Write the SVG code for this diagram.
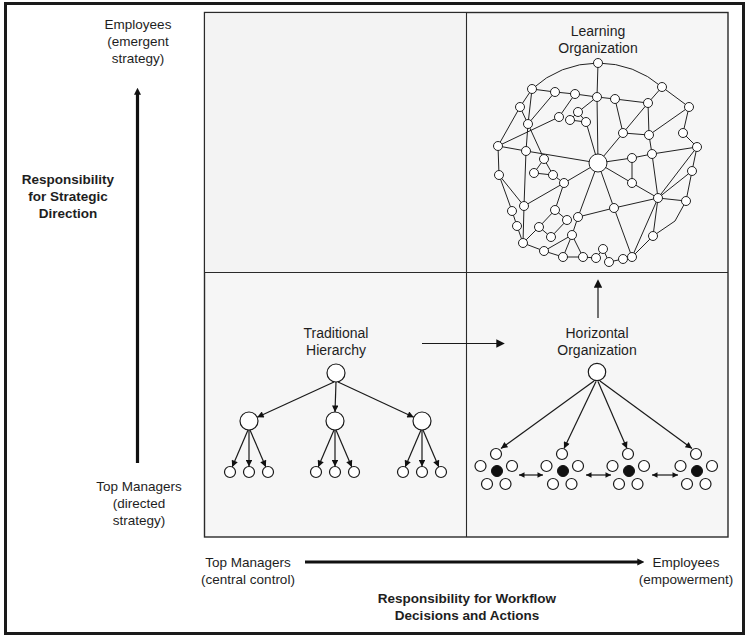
<svg xmlns="http://www.w3.org/2000/svg" width="749" height="639" viewBox="0 0 749 639">
<defs>
<marker id="ah" viewBox="0 0 10 10" refX="10" refY="5" markerWidth="8" markerHeight="6.5" markerUnits="userSpaceOnUse" orient="auto"><path d="M0,0 L10,5 L0,10 z" fill="#111"/></marker>
<marker id="ahd" viewBox="0 0 10 10" refX="10" refY="5" markerWidth="6.5" markerHeight="5.5" markerUnits="userSpaceOnUse" orient="auto-start-reverse"><path d="M0,0 L10,5 L0,10 z" fill="#111"/></marker>
<marker id="ahm" viewBox="0 0 10 10" refX="2" refY="5" markerWidth="11" markerHeight="8.5" markerUnits="userSpaceOnUse" orient="auto"><path d="M0,0 L10,5 L0,10 z" fill="#111"/></marker>
<marker id="ahx" viewBox="0 0 10 10" refX="1" refY="5" markerWidth="7" markerHeight="8" markerUnits="userSpaceOnUse" orient="auto"><path d="M0,0 L10,5 L0,10 z" fill="#111"/></marker>
</defs>
<style>
text{font-family:"Liberation Sans",Arial,Helvetica,sans-serif;fill:#1e1e1e;text-anchor:middle}
.lbl{font-size:13.5px}
.q{font-size:14px}
.b{font-size:13.5px;font-weight:bold}
.ln{stroke:#1a1a1a;stroke-width:1.2;fill:none}
.nd{fill:#fff;stroke:#1a1a1a;stroke-width:1.2}
.blk{fill:#111;stroke:#111;stroke-width:1}
.net line,.net path,.net polyline{stroke:#222;stroke-width:1;fill:none}
.net circle{fill:#fff;stroke:#222;stroke-width:1}
.axis{stroke:#111;stroke-width:3.2;fill:none}
</style>
<rect x="0" y="0" width="749" height="639" fill="#fff"/>
<rect x="5.5" y="3.5" width="738" height="630" fill="none" stroke="#1a1a1a" stroke-width="3"/>

<g id="quadrants">
<rect x="204.5" y="12.5" width="523.5" height="524.5" fill="#f6f6f6" stroke="#2a2a2a" stroke-width="1.4"/>
<rect x="205.2" y="13.2" width="261" height="259" fill="#f3f3f3"/>
<line x1="466.5" y1="12.5" x2="466.5" y2="537" stroke="#2a2a2a" stroke-width="1.1"/>
<line x1="204.5" y1="272.5" x2="728" y2="272.5" stroke="#2a2a2a" stroke-width="1.1"/>
</g>

<g id="axis-labels">
<text class="lbl" x="138" y="29">Employees</text>
<text class="lbl" x="138" y="46">(emergent</text>
<text class="lbl" x="138" y="63">strategy)</text>
<text class="b" x="68" y="184">Responsibility</text>
<text class="b" x="68" y="201">for Strategic</text>
<text class="b" x="68" y="218">Direction</text>
<text class="lbl" x="139" y="491">Top Managers</text>
<text class="lbl" x="139" y="508">(directed</text>
<text class="lbl" x="139" y="525">strategy)</text>
<text class="lbl" x="248" y="567">Top Managers</text>
<text class="lbl" x="248" y="584">(central control)</text>
<text class="lbl" x="686" y="567">Employees</text>
<text class="lbl" x="686" y="584">(empowerment)</text>
<text class="b" x="467" y="603">Responsibility for Workflow</text>
<text class="b" x="467" y="620">Decisions and Actions</text>
</g>

<g id="connectors">
<line class="axis" x1="137.5" y1="463" x2="137.5" y2="94" marker-end="url(#ahx)"/>
<line class="axis" x1="305" y1="562" x2="638" y2="562" marker-end="url(#ahx)"/>
<line class="ln" x1="422" y1="343.5" x2="498" y2="343.5" stroke-width="1.6" marker-end="url(#ahm)"/>
<line class="ln" x1="598" y1="318" x2="598" y2="286" stroke-width="1.6" marker-end="url(#ahm)"/>
</g>

<g id="traditional-hierarchy">
<text class="q" x="336" y="338">Traditional</text>
<text class="q" x="336" y="355">Hierarchy</text>
<line class="ln" x1="334" y1="382" x2="257.2" y2="417.2" marker-end="url(#ah)"/>
<line class="ln" x1="336" y1="382" x2="335" y2="412" marker-end="url(#ah)"/>
<line class="ln" x1="338" y1="382" x2="413.8" y2="417.2" marker-end="url(#ah)"/>
<line class="ln" x1="248" y1="430" x2="232.2" y2="466.9" marker-end="url(#ah)"/>
<line class="ln" x1="249" y1="430" x2="249" y2="466.5" marker-end="url(#ah)"/>
<line class="ln" x1="250" y1="430" x2="265.8" y2="466.9" marker-end="url(#ah)"/>
<line class="ln" x1="334" y1="430" x2="318.2" y2="466.9" marker-end="url(#ah)"/>
<line class="ln" x1="335" y1="430" x2="335" y2="466.5" marker-end="url(#ah)"/>
<line class="ln" x1="336" y1="430" x2="351.8" y2="466.9" marker-end="url(#ah)"/>
<line class="ln" x1="421" y1="430" x2="405.2" y2="466.9" marker-end="url(#ah)"/>
<line class="ln" x1="422" y1="430" x2="422" y2="466.5" marker-end="url(#ah)"/>
<line class="ln" x1="423" y1="430" x2="438.8" y2="466.9" marker-end="url(#ah)"/>
<circle class="nd" cx="336" cy="373" r="9"/>
<circle class="nd" cx="249" cy="421" r="9"/>
<circle class="nd" cx="335" cy="421" r="9"/>
<circle class="nd" cx="422" cy="421" r="9"/>
<circle class="nd" cx="230" cy="472" r="5.5"/>
<circle class="nd" cx="249" cy="472" r="5.5"/>
<circle class="nd" cx="268" cy="472" r="5.5"/>
<circle class="nd" cx="316" cy="472" r="5.5"/>
<circle class="nd" cx="335" cy="472" r="5.5"/>
<circle class="nd" cx="354" cy="472" r="5.5"/>
<circle class="nd" cx="403" cy="472" r="5.5"/>
<circle class="nd" cx="422" cy="472" r="5.5"/>
<circle class="nd" cx="441" cy="472" r="5.5"/>
</g>

<g id="horizontal-organization">
<text class="q" x="597" y="338">Horizontal</text>
<text class="q" x="597" y="355">Organization</text>
<line class="ln" x1="594" y1="381" x2="501" y2="448.5" marker-end="url(#ah)"/>
<line class="ln" x1="596" y1="381.5" x2="564" y2="448.5" marker-end="url(#ah)"/>
<line class="ln" x1="598" y1="381.5" x2="627" y2="448.5" marker-end="url(#ah)"/>
<line class="ln" x1="600" y1="381" x2="692" y2="448.5" marker-end="url(#ah)"/>
<line class="ln" x1="519" y1="475" x2="543" y2="475" marker-start="url(#ahd)" marker-end="url(#ahd)"/>
<line class="ln" x1="586" y1="475" x2="611" y2="475" marker-start="url(#ahd)" marker-end="url(#ahd)"/>
<line class="ln" x1="652" y1="475" x2="678" y2="475" marker-start="url(#ahd)" marker-end="url(#ahd)"/>
<circle class="nd" cx="597" cy="372" r="8.7"/>
<g id="cluster1">
<circle class="nd" cx="496" cy="454" r="5.5"/><circle class="nd" cx="480.5" cy="466" r="5.5"/><circle class="blk" cx="497" cy="471" r="5.5"/><circle class="nd" cx="512" cy="466" r="5.5"/><circle class="nd" cx="487" cy="484" r="5.5"/><circle class="nd" cx="505.5" cy="484" r="5.5"/>
</g>
<g id="cluster2">
<circle class="nd" cx="562" cy="454" r="5.5"/><circle class="nd" cx="546.5" cy="466" r="5.5"/><circle class="blk" cx="563" cy="471" r="5.5"/><circle class="nd" cx="578" cy="466" r="5.5"/><circle class="nd" cx="553" cy="484" r="5.5"/><circle class="nd" cx="571.5" cy="484" r="5.5"/>
</g>
<g id="cluster3">
<circle class="nd" cx="628" cy="454" r="5.5"/><circle class="nd" cx="612.5" cy="466" r="5.5"/><circle class="blk" cx="629" cy="471" r="5.5"/><circle class="nd" cx="644" cy="466" r="5.5"/><circle class="nd" cx="619" cy="484" r="5.5"/><circle class="nd" cx="637.5" cy="484" r="5.5"/>
</g>
<g id="cluster4">
<circle class="nd" cx="696" cy="454" r="5.5"/><circle class="nd" cx="680.5" cy="466" r="5.5"/><circle class="blk" cx="697" cy="471" r="5.5"/><circle class="nd" cx="712" cy="466" r="5.5"/><circle class="nd" cx="687" cy="484" r="5.5"/><circle class="nd" cx="705.5" cy="484" r="5.5"/>
</g>
</g>

<g id="learning-organization">
<text class="q" x="598" y="36">Learning</text>
<text class="q" x="598" y="53">Organization</text>
<g class="net">
<path d="M598,63 A100,100 0 0,0 532,89"/>
<path d="M598,63 A100,100 0 0,1 662,87"/>
<line x1="532" y1="89" x2="520" y2="107"/>
<line x1="520" y1="107" x2="498" y2="146"/>
<line x1="498" y1="146" x2="499" y2="175"/>
<line x1="499" y1="175" x2="512" y2="211"/>
<line x1="512" y1="211" x2="517" y2="226"/>
<line x1="517" y1="226" x2="523" y2="243"/>
<line x1="523" y1="243" x2="544" y2="251"/>
<line x1="544" y1="251" x2="563" y2="257"/>
<line x1="563" y1="257" x2="583" y2="257"/>
<line x1="583" y1="257" x2="596" y2="258"/>
<line x1="596" y1="258" x2="603" y2="249"/>
<line x1="603" y1="249" x2="609" y2="262"/>
<line x1="609" y1="262" x2="623" y2="259"/>
<line x1="623" y1="259" x2="632" y2="257"/>
<line x1="632" y1="257" x2="653" y2="236"/>
<polyline points="653,236 675,221 686,201"/>
<line x1="686" y1="201" x2="692" y2="171"/>
<line x1="692" y1="171" x2="697" y2="147"/>
<line x1="697" y1="147" x2="683" y2="133"/>
<line x1="683" y1="133" x2="689" y2="107"/>
<line x1="689" y1="107" x2="662" y2="87"/>
<line x1="598" y1="63" x2="597" y2="97"/>
<line x1="597" y1="97" x2="598" y2="163"/>
<line x1="532" y1="89" x2="555" y2="92"/>
<line x1="555" y1="92" x2="575" y2="94"/>
<line x1="575" y1="94" x2="597" y2="97"/>
<line x1="597" y1="97" x2="615" y2="99"/>
<line x1="615" y1="99" x2="648" y2="103"/>
<line x1="662" y1="87" x2="648" y2="103"/>
<line x1="532" y1="89" x2="528" y2="124"/>
<line x1="555" y1="92" x2="528" y2="124"/>
<line x1="520" y1="107" x2="528" y2="124"/>
<line x1="575" y1="94" x2="559" y2="117"/>
<line x1="559" y1="117" x2="498" y2="146"/>
<line x1="597" y1="97" x2="578" y2="112"/>
<line x1="578" y1="112" x2="570" y2="120"/>
<line x1="578" y1="112" x2="586" y2="122"/>
<line x1="570" y1="120" x2="586" y2="122"/>
<line x1="586" y1="122" x2="598" y2="163"/>
<line x1="528" y1="124" x2="526" y2="151"/>
<line x1="528" y1="124" x2="544" y2="159"/>
<line x1="498" y1="146" x2="526" y2="151"/>
<line x1="526" y1="151" x2="598" y2="163"/>
<line x1="526" y1="151" x2="524" y2="206"/>
<line x1="499" y1="175" x2="524" y2="206"/>
<line x1="544" y1="159" x2="534" y2="173"/>
<line x1="544" y1="159" x2="553" y2="175"/>
<line x1="534" y1="173" x2="553" y2="175"/>
<line x1="553" y1="175" x2="564" y2="183"/>
<line x1="564" y1="183" x2="598" y2="163"/>
<line x1="564" y1="183" x2="524" y2="206"/>
<line x1="564" y1="183" x2="555" y2="210"/>
<line x1="524" y1="206" x2="523" y2="243"/>
<line x1="555" y1="210" x2="567" y2="220"/>
<line x1="555" y1="210" x2="539" y2="227"/>
<line x1="539" y1="227" x2="551" y2="237"/>
<line x1="567" y1="220" x2="551" y2="237"/>
<line x1="539" y1="227" x2="523" y2="243"/>
<line x1="544" y1="251" x2="572" y2="235"/>
<line x1="572" y1="235" x2="563" y2="257"/>
<line x1="572" y1="235" x2="583" y2="257"/>
<line x1="572" y1="235" x2="578" y2="217"/>
<line x1="578" y1="217" x2="598" y2="163"/>
<line x1="578" y1="217" x2="614" y2="208"/>
<line x1="614" y1="208" x2="598" y2="163"/>
<line x1="614" y1="208" x2="632" y2="257"/>
<line x1="614" y1="208" x2="658" y2="198"/>
<line x1="615" y1="99" x2="623" y2="133"/>
<line x1="648" y1="103" x2="623" y2="133"/>
<line x1="623" y1="133" x2="649" y2="135"/>
<line x1="648" y1="103" x2="649" y2="135"/>
<line x1="689" y1="107" x2="649" y2="135"/>
<line x1="623" y1="133" x2="598" y2="163"/>
<line x1="649" y1="135" x2="652" y2="154"/>
<line x1="632" y1="158" x2="652" y2="154"/>
<line x1="652" y1="154" x2="697" y2="147"/>
<line x1="632" y1="158" x2="598" y2="163"/>
<line x1="632" y1="158" x2="632" y2="183"/>
<line x1="632" y1="183" x2="598" y2="163"/>
<line x1="632" y1="183" x2="658" y2="198"/>
<line x1="652" y1="154" x2="658" y2="198"/>
<line x1="697" y1="147" x2="658" y2="198"/>
<line x1="692" y1="171" x2="658" y2="198"/>
<line x1="658" y1="198" x2="686" y2="201"/>
<line x1="658" y1="198" x2="653" y2="236"/>
<line x1="658" y1="198" x2="632" y2="257"/>
<circle cx="598" cy="63" r="4.5"/>
<circle cx="532" cy="89" r="4.5"/>
<circle cx="555" cy="92" r="4.5"/>
<circle cx="575" cy="94" r="4.5"/>
<circle cx="597" cy="97" r="4.5"/>
<circle cx="615" cy="99" r="4.5"/>
<circle cx="662" cy="87" r="4.5"/>
<circle cx="648" cy="103" r="4.5"/>
<circle cx="689" cy="107" r="4.5"/>
<circle cx="520" cy="107" r="4.5"/>
<circle cx="559" cy="117" r="4.5"/>
<circle cx="578" cy="112" r="4.5"/>
<circle cx="570" cy="120" r="4.5"/>
<circle cx="586" cy="122" r="4.5"/>
<circle cx="528" cy="124" r="4.5"/>
<circle cx="623" cy="133" r="4.5"/>
<circle cx="649" cy="135" r="4.5"/>
<circle cx="683" cy="133" r="4.5"/>
<circle cx="498" cy="146" r="4.5"/>
<circle cx="526" cy="151" r="4.5"/>
<circle cx="598" cy="163" r="9"/>
<circle cx="632" cy="158" r="4.5"/>
<circle cx="652" cy="154" r="4.5"/>
<circle cx="697" cy="147" r="4.5"/>
<circle cx="544" cy="159" r="4.5"/>
<circle cx="534" cy="173" r="4.5"/>
<circle cx="553" cy="175" r="4.5"/>
<circle cx="564" cy="183" r="4.5"/>
<circle cx="499" cy="175" r="4.5"/>
<circle cx="632" cy="183" r="4.5"/>
<circle cx="692" cy="171" r="4.5"/>
<circle cx="658" cy="198" r="4.5"/>
<circle cx="686" cy="201" r="4.5"/>
<circle cx="524" cy="206" r="4.5"/>
<circle cx="512" cy="211" r="4.5"/>
<circle cx="555" cy="210" r="4.5"/>
<circle cx="614" cy="208" r="4.5"/>
<circle cx="578" cy="217" r="4.5"/>
<circle cx="567" cy="220" r="4.5"/>
<circle cx="517" cy="226" r="4.5"/>
<circle cx="539" cy="227" r="4.5"/>
<circle cx="551" cy="237" r="4.5"/>
<circle cx="572" cy="235" r="4.5"/>
<circle cx="653" cy="236" r="4.5"/>
<circle cx="523" cy="243" r="4.5"/>
<circle cx="544" cy="251" r="4.5"/>
<circle cx="563" cy="257" r="4.5"/>
<circle cx="583" cy="257" r="4.5"/>
<circle cx="596" cy="258" r="4.5"/>
<circle cx="603" cy="249" r="4.5"/>
<circle cx="609" cy="262" r="4.5"/>
<circle cx="623" cy="259" r="4.5"/>
<circle cx="632" cy="257" r="4.5"/>
</g>
</g>
</svg>
